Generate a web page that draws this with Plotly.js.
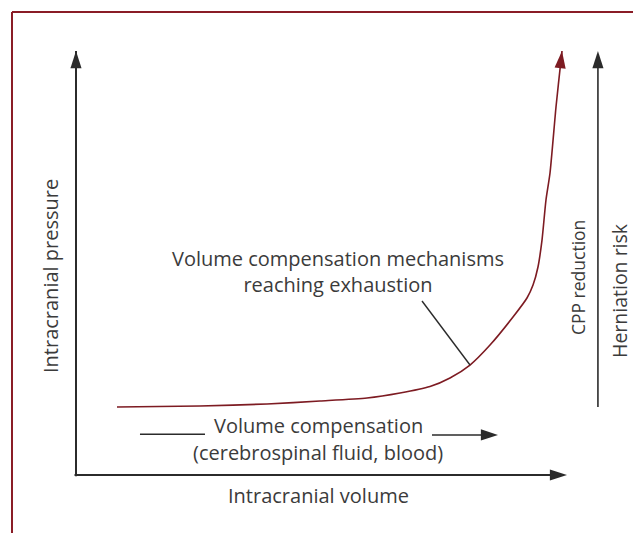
<!DOCTYPE html>
<html>
<head>
<meta charset="utf-8">
<script src="https://cdn.plot.ly/plotly-3.0.1.min.js"></script>
<style>html,body{margin:0;padding:0;background:#fff;}#chart{width:633px;height:533px;}</style>
</head>
<body>
<div id="chart"></div>
<script>
// Pressure–volume curve (arbitrary units, 0–100)
var volume   = [8.35, 25.25, 38.90, 49.69, 59.27, 65.99, 72.10, 76.17, 80.24, 84.32, 89.00, 91.85, 93.08, 94.09, 94.91, 95.72, 96.54, 97.76, 98.78, 98.98];
var pressure = [16.04, 16.27, 16.75, 17.45, 18.16, 19.34, 20.87, 22.88, 25.94, 30.66, 37.26, 41.75, 44.81, 49.06, 55.42, 64.86, 71.23, 86.79, 97.88, 100];

var xAxisLabel = 'Intracranial volume';
var yAxisLabel = 'Intracranial pressure';
var calloutText = 'Volume compensation mechanisms<br>reaching exhaustion';
var compText1 = 'Volume compensation';
var compText2 = '(cerebrospinal fluid, blood)';
var rightLabel1 = 'CPP reduction';
var rightLabel2 = 'Herniation risk';

var TXT = '#3b3b3b', AX = '#2b2b2b', RED = '#7d1b22';
var FONT = 'Open Sans, Noto Sans, sans-serif';

function arrowTrace(xs, ys, color, w, shape){
  var sizes = xs.map(function(_, i){ return i === xs.length - 1 ? 18 : 0; });
  return {x: xs, y: ys, mode: 'lines+markers', type: 'scatter', cliponaxis: false,
          line: {color: color, width: w, shape: shape || 'linear', smoothing: 0.6},
          marker: {symbol: 'arrow', size: sizes, angleref: 'previous', color: color, opacity: 1, line: {width: 0}},
          hoverinfo: 'skip', showlegend: false};
}

var traces = [];
// curve with arrowhead
traces.push(arrowTrace(volume, pressure, RED, 1.6, 'spline'));
// axes
traces.push(arrowTrace([0, 0], [-0.3, 100], AX, 2));
traces.push(arrowTrace([-0.3, 100], [0, 0], AX, 2));
// right arrow
traces.push(arrowTrace([106.3, 106.3], [16.04, 100], AX, 1.6));
// compensation arrow
traces.push({x: [13.03, 26.27], y: [9.6, 9.6], mode: 'lines', line: {color: AX, width: 1.6}, hoverinfo: 'skip', showlegend: false});
traces.push(arrowTrace([72.5, 85.95], [9.45, 9.45], AX, 1.6));
// callout pointer
traces.push({x: [70.47, 80.24], y: [41.04, 25.94], mode: 'lines', line: {color: AX, width: 1.4}, hoverinfo: 'skip', showlegend: false});

function ann(text, x, y, angle, ref, size){
  return {text: text, x: x, y: y, xref: ref ? 'paper' : 'x', yref: ref ? 'paper' : 'y', showarrow: false,
          xanchor: 'center', yanchor: 'middle', textangle: angle || 0, borderpad: 0,
          font: {family: FONT, size: size || 20, color: TXT}};
}

var layout = {
  width: 633, height: 533,
  margin: {l: 61, r: 17, t: 38, b: 45, pad: 0},
  paper_bgcolor: '#fff', plot_bgcolor: '#fff',
  xaxis: {range: [-3.055, 109.98], visible: false, fixedrange: true},
  yaxis: {range: [-3.066, 103.07], visible: false, fixedrange: true},
  showlegend: false,
  shapes: [
    {type: 'line', xref: 'paper', yref: 'paper', x0: -0.0883, x1: 1.2, y0: 1.0578, y1: 1.0578, line: {color: '#8a1c26', width: 2}},
    {type: 'line', xref: 'paper', yref: 'paper', x0: -0.0883, x1: -0.0883, y0: 1.0578, y1: -0.2, line: {color: '#8a1c26', width: 2}}
  ],
  annotations: [
    ann(calloutText, 53.36, 48.0),
    ann(compText1, 49.29, 11.79),
    ann(compText2, 49.29, 5.42),
    ann(xAxisLabel, 0.4631, -0.0156, 0, true),
    ann(yAxisLabel, -0.0198, 0.4711, -90, true),
    ann(rightLabel1, 102.24, 46.46, -90, false, 17.5),
    ann(rightLabel2, 1.0054, 0.44, -90, true, 19.5)
  ]
};

Plotly.newPlot('chart', traces, layout, {displayModeBar: false, staticPlot: true});
</script>
</body>
</html>
